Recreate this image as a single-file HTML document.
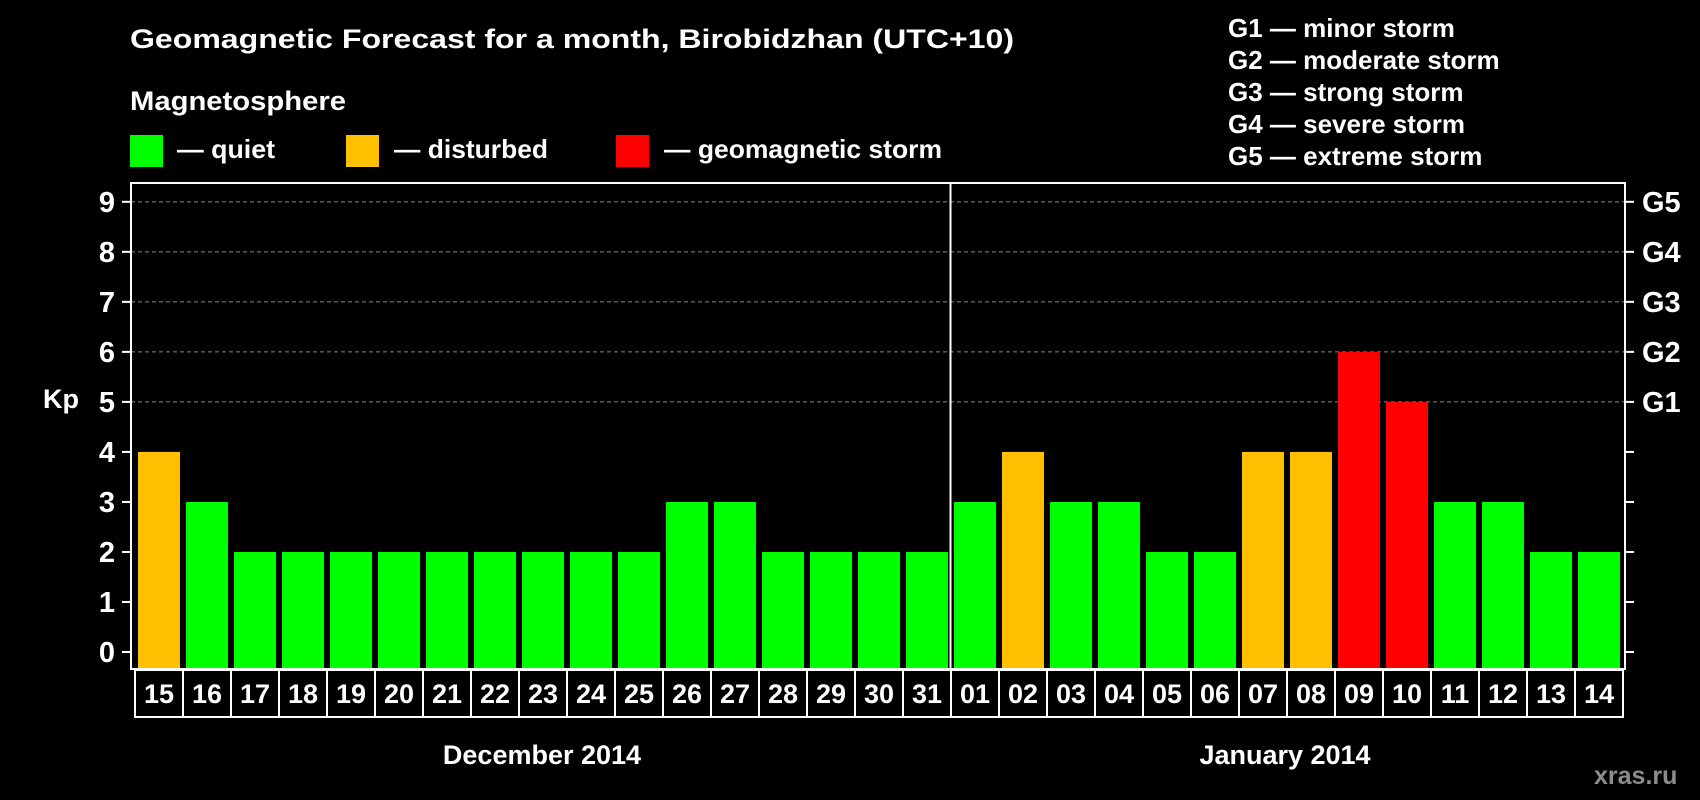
<!DOCTYPE html>
<html><head><meta charset="utf-8"><style>
html,body{margin:0;padding:0;background:#000;}
svg{display:block;font-family:"Liberation Sans",Arial,sans-serif;font-weight:bold;}
</style></head><body>
<svg id="chart" width="1700" height="800" viewBox="0 0 1700 800">
<rect x="0" y="0" width="1700" height="800" fill="#000"/>
<text x="130" y="48" fill="#fff" font-size="27" textLength="884" lengthAdjust="spacingAndGlyphs">Geomagnetic Forecast for a month, Birobidzhan (UTC+10)</text>
<text x="130" y="110" fill="#fff" font-size="27" textLength="216" lengthAdjust="spacingAndGlyphs">Magnetosphere</text>
<g>
<rect x="130" y="135" width="33" height="32" fill="#00ff00"/>
<text x="177" y="158" fill="#fff" font-size="26" textLength="98" lengthAdjust="spacingAndGlyphs">— quiet</text></g>
<g>
<rect x="346" y="135" width="33" height="32" fill="#ffc000"/>
<text x="394" y="158" fill="#fff" font-size="26" textLength="154" lengthAdjust="spacingAndGlyphs">— disturbed</text></g>
<g>
<rect x="616" y="135" width="33" height="32" fill="#ff0000"/>
<text x="664" y="158" fill="#fff" font-size="26" textLength="278" lengthAdjust="spacingAndGlyphs">— geomagnetic storm</text></g>
<g id="glegend"></g>
<g id="grid"></g>
<g id="bars"></g>
<g id="axes"></g>
<text x="43" y="408" fill="#fff" font-size="27">Kp</text>
<text x="542" y="764" fill="#fff" font-size="27" text-anchor="middle">December 2014</text>
<text x="1285" y="764" fill="#fff" font-size="27" text-anchor="middle">January 2014</text>
<text x="1594" y="784" fill="#8c8c8c" font-size="25">xras.ru</text>
</svg>
<script>
const days = ["15","16","17","18","19","20","21","22","23","24","25","26","27","28","29","30","31","01","02","03","04","05","06","07","08","09","10","11","12","13","14"];
const kpValues = [4,3,2,2,2,2,2,2,2,2,2,3,3,2,2,2,2,3,4,3,3,2,2,4,4,6,5,3,3,2,2];
const yTicks = [0,1,2,3,4,5,6,7,8,9];
const gLabels = ["G1","G2","G3","G4","G5"];
const gLevels = [5,6,7,8,9];
const gDescriptions = ["G1 — minor storm","G2 — moderate storm","G3 — strong storm","G4 — severe storm","G5 — extreme storm"];

const NS="http://www.w3.org/2000/svg";
const plotL=131, plotR=1625, plotT=183, plotB=669;
const y0=652, unit=50.02;
const yScale=v=>y0-v*unit;
const barStart=138, pitch=48, barW=42;
const xScale=i=>barStart+i*pitch;
function mk(tag,attrs,parent){const e=document.createElementNS(NS,tag);for(const k in attrs)e.setAttribute(k,attrs[k]);parent.appendChild(e);return e;}
const grid=document.getElementById('grid'),bars=document.getElementById('bars'),axes=document.getElementById('axes'),gl=document.getElementById('glegend');

gDescriptions.forEach((t,i)=>{
  const el=mk('text',{x:1228,y:37+i*32,fill:'#fff','font-size':26},gl);
  
  
  el.textContent=t;
});

gLevels.forEach(v=>{
  const el=mk('line',{x1:plotL,x2:plotR,y1:yScale(v),y2:yScale(v),stroke:'#888','stroke-width':1,'stroke-dasharray':'4,3'},grid);
  
  
});

kpValues.forEach((v,i)=>{
  const c=v>=5?'#ff0000':(v>=4?'#ffc000':'#00ff00');
  const el=mk('rect',{x:xScale(i),y:yScale(v),width:barW,height:plotB-1-yScale(v),fill:c},bars);
  
  
});

const frame=mk('rect',{x:plotL,y:plotT,width:plotR-plotL,height:plotB-plotT,fill:'none',stroke:'#fff','stroke-width':2},axes);


const div=mk('line',{x1:950.5,x2:950.5,y1:plotT,y2:plotB,stroke:'#fff','stroke-width':2},axes);



yTicks.forEach(v=>{
  const y=yScale(v);
  const t1=mk('line',{x1:122,x2:plotL,y1:y,y2:y,stroke:'#fff','stroke-width':2},axes);
  
  
  const t2=mk('line',{x1:plotR,x2:1634,y1:y,y2:y,stroke:'#fff','stroke-width':2},axes);
  
  
  const lb=mk('text',{x:115,y:y+10,fill:'#fff','font-size':29,'text-anchor':'end'},axes);
  
  
  lb.textContent=v;
});
gLabels.forEach((g,i)=>{
  const lb=mk('text',{x:1642,y:yScale(gLevels[i])+10,fill:'#fff','font-size':29},axes);
  
  
  lb.textContent=g;
});

const cellT=670, cellB=717;
const cb=mk('rect',{x:135,y:cellT,width:1623-135,height:cellB-cellT,fill:'none',stroke:'#fff','stroke-width':2},axes);


days.forEach((d,i)=>{
  if(i>0){
    const sx=xScale(i)-3;
    const s=mk('line',{x1:sx,x2:sx,y1:cellT,y2:cellB,stroke:'#fff','stroke-width':2},axes);
    
    
  }
  const t=mk('text',{x:xScale(i)+barW/2,y:703,fill:'#fff','font-size':27,'text-anchor':'middle'},axes);
  
  
  t.textContent=d;
});
</script>
</body></html>
